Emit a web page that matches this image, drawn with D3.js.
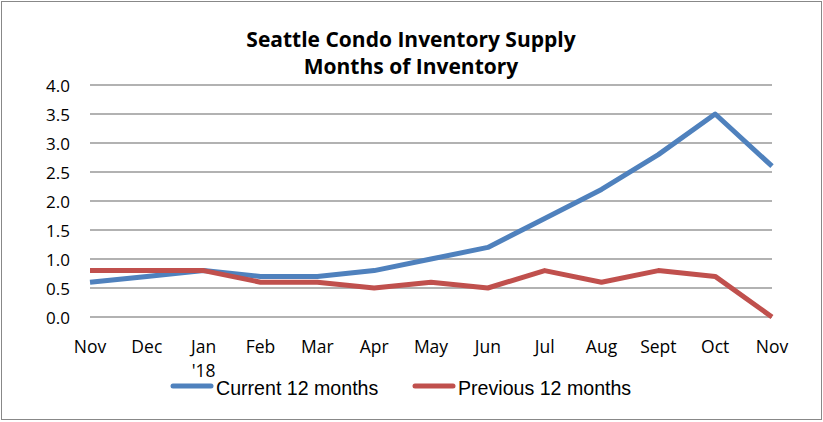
<!DOCTYPE html>
<html><head><meta charset="utf-8">
<script src="https://cdn.jsdelivr.net/npm/d3@7"></script>
<style>body{margin:0;background:#fff}svg{display:block}</style>
</head><body><svg id="c" width="823" height="422"></svg>
<script>
const months = ["Nov","Dec","Jan","Feb","Mar","Apr","May","Jun","Jul","Aug","Sept","Oct","Nov"];
const current = [0.6,0.7,0.8,0.7,0.7,0.8,1.0,1.2,1.7,2.2,2.8,3.5,2.6];
const previous = [0.8,0.8,0.8,0.6,0.6,0.5,0.6,0.5,0.8,0.6,0.8,0.7,0.0];
const yTicks = [0,0.5,1,1.5,2,2.5,3,3.5,4];
const seriesNames = ["Current 12 months","Previous 12 months"];
const colors = ["#4F81BD","#C0504D"];

const svg = d3.select("#c");
svg.append("rect").attr("x",1.5).attr("y",1.5).attr("width",820).attr("height",418)
  .attr("fill","#fff").attr("stroke","#888").attr("stroke-width",1);

const x = d3.scalePoint().domain(d3.range(months.length)).range([90,772]);
const y = d3.scaleLinear().domain([0,4]).range([317,85]);

const cal = "'Open Sans', sans-serif";

svg.append("g").selectAll("line").data(yTicks).join("line")
  .attr("x1",90).attr("x2",772).attr("y1",d=>y(d)).attr("y2",d=>y(d))
  .attr("stroke","#999").attr("stroke-width",1.5);

svg.append("g").selectAll("text").data(yTicks).join("text")
  .attr("x",70).attr("y",d=>y(d)+6.5).attr("text-anchor","end")
  .attr("font-family",cal).attr("font-size",17).text(d=>d.toFixed(1));

svg.append("g").selectAll("text").data(months).join("text")
  .attr("x",(d,i)=>x(i)).attr("y",352.5).attr("text-anchor","middle")
  .attr("font-family",cal).attr("font-size",17.5).text(d=>d);
svg.append("text").attr("x",x(2)).attr("y",376.5).attr("text-anchor","middle")
  .attr("font-family",cal).attr("font-size",17.5).text("'18");

const line = d3.line().x((d,i)=>x(i)).y(d=>y(d));
[current,previous].forEach((s,k)=>{
  svg.append("path").datum(s).attr("d",line).attr("fill","none")
    .attr("stroke",colors[k]).attr("stroke-width",5).attr("stroke-linejoin","round");
});

svg.append("text").attr("x",411).attr("y",47).attr("text-anchor","middle")
  .attr("font-family",cal).attr("font-weight","bold").attr("font-size",21).text("Seattle Condo Inventory Supply");
svg.append("text").attr("x",411).attr("y",74).attr("text-anchor","middle")
  .attr("font-family",cal).attr("font-weight","bold").attr("font-size",21).text("Months of Inventory");

const lx = [171,413];
seriesNames.forEach((n,k)=>{
  svg.append("line").attr("x1",lx[k]+2).attr("x2",lx[k]+40).attr("y1",386).attr("y2",386)
    .attr("stroke",colors[k]).attr("stroke-width",5).attr("stroke-linecap","round");
  svg.append("text").attr("x",lx[k]+45).attr("y",395).attr("font-family","'Liberation Sans', Arial, sans-serif")
    .attr("font-size",19.6).text(n);
});
</script></body></html>
